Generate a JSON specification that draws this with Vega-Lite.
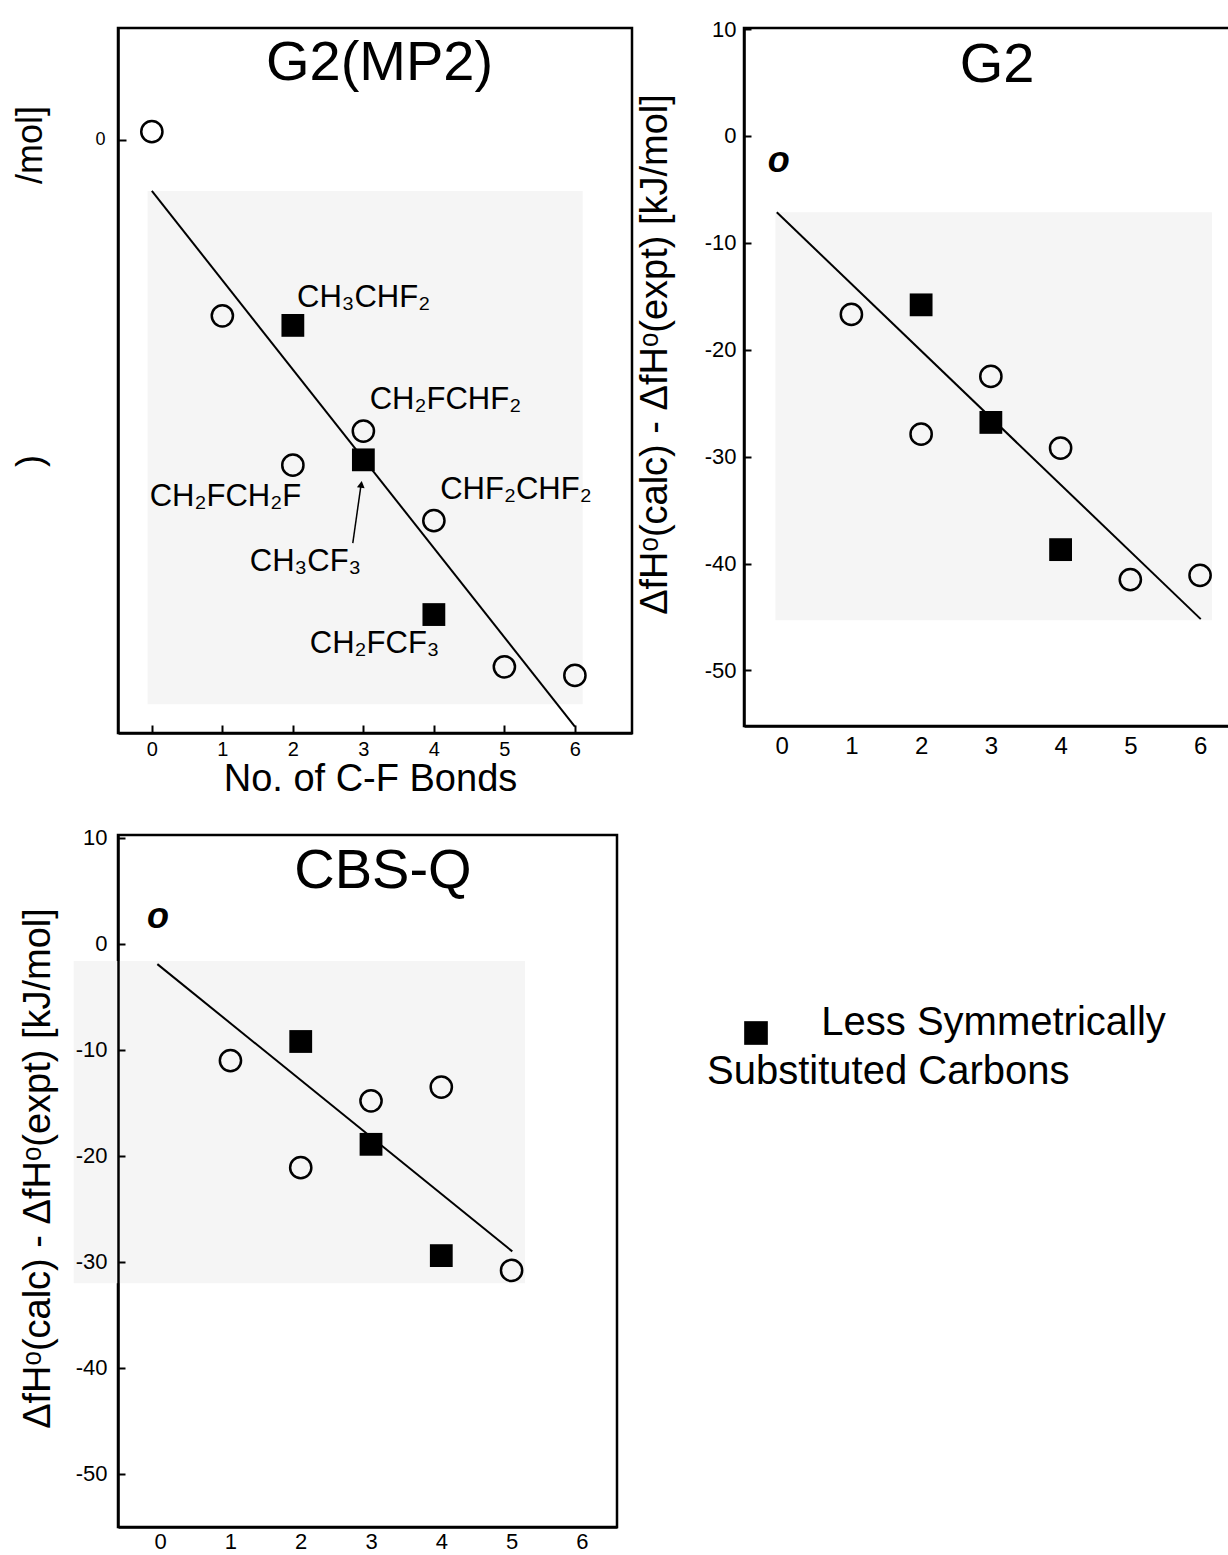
{
  "$schema": "https://vega.github.io/schema/vega-lite/v6.json",
  "background": "white",
  "padding": {"left": 11, "top": 16, "right": 0, "bottom": 0},
  "config": {
    "font": "Liberation Sans",
    "view": {"stroke": "black", "strokeWidth": 2.5},
    "axis": {"grid": false, "domain": true, "domainColor": "black", "domainWidth": 2.5, "tickColor": "black", "tickWidth": 2, "labelColor": "black", "titleColor": "black", "labelFont": "Liberation Sans", "titleFont": "Liberation Sans", "titleFontWeight": "normal", "labelFlush": false, "labelOverlap": false, "zindex": 1, "labelExpr": "'' + datum.value"},
    "text": {"font": "Liberation Sans", "color": "black"}
  },
  "datasets": {
    "pts": [
      {"panel": "G2(MP2)", "bonds": 0, "dev": 0.75, "kind": "other"},
      {"panel": "G2(MP2)", "bonds": 1, "dev": -16.5, "kind": "other"},
      {"panel": "G2(MP2)", "bonds": 2, "dev": -17.4, "kind": "less"},
      {"panel": "G2(MP2)", "bonds": 3, "dev": -27.3, "kind": "other"},
      {"panel": "G2(MP2)", "bonds": 2, "dev": -30.5, "kind": "other"},
      {"panel": "G2(MP2)", "bonds": 3, "dev": -30.0, "kind": "less"},
      {"panel": "G2(MP2)", "bonds": 4, "dev": -35.7, "kind": "other"},
      {"panel": "G2(MP2)", "bonds": 4, "dev": -44.5, "kind": "less"},
      {"panel": "G2(MP2)", "bonds": 5, "dev": -49.4, "kind": "other"},
      {"panel": "G2(MP2)", "bonds": 6, "dev": -50.2, "kind": "other"},
      {"panel": "G2", "bonds": 1, "dev": -16.7, "kind": "other"},
      {"panel": "G2", "bonds": 2, "dev": -15.8, "kind": "less"},
      {"panel": "G2", "bonds": 3, "dev": -22.5, "kind": "other"},
      {"panel": "G2", "bonds": 2, "dev": -27.9, "kind": "other"},
      {"panel": "G2", "bonds": 3, "dev": -26.8, "kind": "less"},
      {"panel": "G2", "bonds": 4, "dev": -29.2, "kind": "other"},
      {"panel": "G2", "bonds": 4, "dev": -38.7, "kind": "less"},
      {"panel": "G2", "bonds": 5, "dev": -41.5, "kind": "other"},
      {"panel": "G2", "bonds": 6, "dev": -41.1, "kind": "other"},
      {"panel": "CBS-Q", "bonds": 1, "dev": -11.0, "kind": "other"},
      {"panel": "CBS-Q", "bonds": 2, "dev": -9.2, "kind": "less"},
      {"panel": "CBS-Q", "bonds": 3, "dev": -14.8, "kind": "other"},
      {"panel": "CBS-Q", "bonds": 4, "dev": -13.5, "kind": "other"},
      {"panel": "CBS-Q", "bonds": 3, "dev": -18.9, "kind": "less"},
      {"panel": "CBS-Q", "bonds": 2, "dev": -21.1, "kind": "other"},
      {"panel": "CBS-Q", "bonds": 4, "dev": -29.4, "kind": "less"},
      {"panel": "CBS-Q", "bonds": 5, "dev": -30.8, "kind": "other"}
    ],
    "fit": [
      {"panel": "G2(MP2)", "bonds": 0.0, "dev": -4.8},
      {"panel": "G2(MP2)", "bonds": 6.0, "dev": -55.0},
      {"panel": "G2", "bonds": -0.07, "dev": -7.14},
      {"panel": "G2", "bonds": 6.01, "dev": -45.2},
      {"panel": "CBS-Q", "bonds": -0.04, "dev": -1.9},
      {"panel": "CBS-Q", "bonds": 5.01, "dev": -29.0}
    ],
    "shade": [
      {"panel": "G2(MP2)", "bonds": -0.06, "bonds2": 6.11, "dev": -4.8, "dev2": -52.9},
      {"panel": "G2", "bonds": -0.09, "bonds2": 6.17, "dev": -7.14, "dev2": -45.3},
      {"panel": "CBS-Q", "bonds": -1.23, "bonds2": 5.19, "dev": -1.6, "dev2": -32.0}
    ],
    "arrow": [
      {"panel": "G2(MP2)", "part": "shaft", "bonds": 2.85, "dev": -37.8},
      {"panel": "G2(MP2)", "part": "shaft", "bonds": 2.97, "dev": -32.2},
      {"panel": "G2(MP2)", "part": "head", "bonds": 2.97, "dev": -32.3}
    ],
    "labels": [
      {"panel": "G2(MP2)", "role": "title", "text": "G2(MP2)", "bonds": 3.23, "dev": 7.2},
      {"panel": "G2(MP2)", "role": "compound", "text": "CH₃CHF₂", "bonds": 2.06, "dev": -14.8},
      {"panel": "G2(MP2)", "role": "compound", "text": "CH₂FCHF₂", "bonds": 3.09, "dev": -24.4},
      {"panel": "G2(MP2)", "role": "compound", "text": "CH₂FCH₂F", "bonds": -0.03, "dev": -33.5},
      {"panel": "G2(MP2)", "role": "compound", "text": "CHF₂CHF₂", "bonds": 4.09, "dev": -32.8},
      {"panel": "G2(MP2)", "role": "compound", "text": "CH₃CF₃", "bonds": 1.39, "dev": -39.6},
      {"panel": "G2(MP2)", "role": "compound", "text": "CH₂FCF₃", "bonds": 2.24, "dev": -47.3},
      {"panel": "G2(MP2)", "role": "fragment", "text": "/mol]", "bonds": -1.72, "dev": -0.5},
      {"panel": "G2(MP2)", "role": "fragment", "text": ")", "bonds": -1.72, "dev": -30.1},
      {"panel": "G2", "role": "title", "text": "G2", "bonds": 3.09, "dev": 6.6},
      {"panel": "G2", "role": "o", "text": "o", "bonds": -0.04, "dev": -2.35},
      {"panel": "CBS-Q", "role": "title", "text": "CBS-Q", "bonds": 3.17, "dev": 6.9},
      {"panel": "CBS-Q", "role": "o", "text": "o", "bonds": -0.03, "dev": 2.5}
    ],
    "legend": [
      {"role": "marker", "text": "", "lx": 0.25, "ly": 3.4},
      {"role": "text", "text": "Less Symmetrically", "lx": 1.61, "ly": 3.73},
      {"role": "text", "text": "Substituted Carbons", "lx": -0.77, "ly": 2.1}
    ]
  },
  "columns": 2,
  "bounds": "flush",
  "align": "none",
  "spacing": {"row": 102, "column": 112},
  "concat": [
    {
      "width": 514,
      "height": 705,
      "encoding": {
        "x": {"field": "bonds", "type": "quantitative", "scale": {"domain": [-0.48, 6.81], "nice": false, "zero": false},
          "axis": {"values": [0, 1, 2, 3, 4, 5, 6], "title": "No. of C-F Bonds", "titleFontSize": 38, "titleX": 252, "titleY": 46, "titleBaseline": "middle", "labelFontSize": 20, "tickSize": -8, "labelPadding": 14, "zindex": 1}},
        "y": {"field": "dev", "type": "quantitative", "scale": {"domain": [-55.6, 10.47], "nice": false, "zero": false},
          "axis": {"values": [0], "title": null, "labelFontSize": 18, "tickSize": -8, "labelPadding": 21, "zindex": 1}}
      },
      "layer": [
        {"data": {"name": "shade"}, "transform": [{"filter": "datum.panel === 'G2(MP2)'"}], "mark": {"type": "rect", "color": "#f5f5f5"}, "encoding": {"x2": {"field": "bonds2"}, "y2": {"field": "dev2"}}},
        {"data": {"name": "fit"}, "transform": [{"filter": "datum.panel === 'G2(MP2)'"}], "mark": {"type": "line", "color": "black", "strokeWidth": 2}, "encoding": {}},
        {"data": {"name": "arrow"}, "transform": [{"filter": "datum.part === 'shaft'"}], "mark": {"type": "line", "color": "black", "strokeWidth": 1.5}, "encoding": {}},
        {"data": {"name": "arrow"}, "transform": [{"filter": "datum.part === 'head'"}], "mark": {"type": "point", "shape": "triangle-up", "filled": true, "color": "black", "size": 60, "angle": 8, "opacity": 1}},
        {"data": {"name": "pts"}, "transform": [{"filter": "datum.panel === 'G2(MP2)' && datum.kind === 'other'"}], "mark": {"type": "point", "shape": "circle", "filled": false, "stroke": "black", "strokeWidth": 2.5, "size": 450, "opacity": 1}},
        {"data": {"name": "pts"}, "transform": [{"filter": "datum.panel === 'G2(MP2)' && datum.kind === 'less'"}], "mark": {"type": "square", "filled": true, "color": "black", "size": 520, "opacity": 1}},
        {"data": {"name": "labels"}, "transform": [{"filter": "datum.panel === 'G2(MP2)' && datum.role === 'compound'"}], "mark": {"type": "text", "align": "left", "baseline": "middle", "fontSize": 31}, "encoding": {"text": {"field": "text"}}},
        {"data": {"name": "labels"}, "transform": [{"filter": "datum.panel === 'G2(MP2)' && datum.role === 'title'"}], "mark": {"type": "text", "align": "center", "baseline": "middle", "fontSize": 56}, "encoding": {"text": {"field": "text"}}},
        {"data": {"name": "labels"}, "transform": [{"filter": "datum.panel === 'G2(MP2)' && datum.role === 'fragment'"}], "mark": {"type": "text", "align": "center", "baseline": "middle", "fontSize": 36, "angle": 270}, "encoding": {"text": {"field": "text"}}}
      ]
    },
    {
      "width": 500,
      "height": 698,
      "encoding": {
        "x": {"field": "bonds", "type": "quantitative", "scale": {"domain": [-0.54, 6.63], "nice": false, "zero": false},
          "axis": {"values": [0, 1, 2, 3, 4, 5, 6], "title": null, "labelFontSize": 24, "ticks": false, "labelPadding": 8, "zindex": 1}},
        "y": {"field": "dev", "type": "quantitative", "scale": {"domain": [-55.2, 10.1], "nice": false, "zero": false},
          "axis": {"values": [-50, -40, -30, -20, -10, 0, 10], "labelFontSize": 22, "tickSize": -7, "labelPadding": 15, "title": "ΔfHᵒ(calc) - ΔfHᵒ(expt) [kJ/mol]", "titleFontSize": 38, "titleX": -89, "titleY": 326, "titleAlign": "center", "titleBaseline": "middle", "titleAngle": 270, "zindex": 1}}
      },
      "layer": [
        {"data": {"name": "shade"}, "transform": [{"filter": "datum.panel === 'G2'"}], "mark": {"type": "rect", "color": "#f5f5f5"}, "encoding": {"x2": {"field": "bonds2"}, "y2": {"field": "dev2"}}},
        {"data": {"name": "fit"}, "transform": [{"filter": "datum.panel === 'G2'"}], "mark": {"type": "line", "color": "black", "strokeWidth": 2}, "encoding": {}},
        {"data": {"name": "pts"}, "transform": [{"filter": "datum.panel === 'G2' && datum.kind === 'other'"}], "mark": {"type": "point", "shape": "circle", "filled": false, "stroke": "black", "strokeWidth": 2.5, "size": 450, "opacity": 1}},
        {"data": {"name": "pts"}, "transform": [{"filter": "datum.panel === 'G2' && datum.kind === 'less'"}], "mark": {"type": "square", "filled": true, "color": "black", "size": 520, "opacity": 1}},
        {"data": {"name": "labels"}, "transform": [{"filter": "datum.panel === 'G2' && datum.role === 'title'"}], "mark": {"type": "text", "align": "center", "baseline": "middle", "fontSize": 56}, "encoding": {"text": {"field": "text"}}},
        {"data": {"name": "labels"}, "transform": [{"filter": "datum.panel === 'G2' && datum.role === 'o'"}], "mark": {"type": "text", "align": "center", "baseline": "middle", "fontSize": 36, "fontStyle": "italic", "fontWeight": "bold"}, "encoding": {"text": {"field": "text"}}}
      ]
    },
    {
      "width": 499,
      "height": 692,
      "encoding": {
        "x": {"field": "bonds", "type": "quantitative", "scale": {"domain": [-0.6, 6.5], "nice": false, "zero": false},
          "axis": {"values": [0, 1, 2, 3, 4, 5, 6], "title": null, "labelFontSize": 22, "ticks": false, "labelPadding": 4, "zindex": 1}},
        "y": {"field": "dev", "type": "quantitative", "scale": {"domain": [-55.0, 10.28], "nice": false, "zero": false},
          "axis": {"values": [-50, -40, -30, -20, -10, 0, 10], "labelFontSize": 22, "tickSize": -7, "labelPadding": 18, "title": "ΔfHᵒ(calc) - ΔfHᵒ(expt) [kJ/mol]", "titleFontSize": 38, "titleX": -80, "titleY": 333, "titleAlign": "center", "titleBaseline": "middle", "titleAngle": 270, "zindex": 1}}
      },
      "layer": [
        {"data": {"name": "shade"}, "transform": [{"filter": "datum.panel === 'CBS-Q'"}], "mark": {"type": "rect", "color": "#f5f5f5"}, "encoding": {"x2": {"field": "bonds2"}, "y2": {"field": "dev2"}}},
        {"data": {"name": "fit"}, "transform": [{"filter": "datum.panel === 'CBS-Q'"}], "mark": {"type": "line", "color": "black", "strokeWidth": 2}, "encoding": {}},
        {"data": {"name": "pts"}, "transform": [{"filter": "datum.panel === 'CBS-Q' && datum.kind === 'other'"}], "mark": {"type": "point", "shape": "circle", "filled": false, "stroke": "black", "strokeWidth": 2.5, "size": 450, "opacity": 1}},
        {"data": {"name": "pts"}, "transform": [{"filter": "datum.panel === 'CBS-Q' && datum.kind === 'less'"}], "mark": {"type": "square", "filled": true, "color": "black", "size": 520, "opacity": 1}},
        {"data": {"name": "labels"}, "transform": [{"filter": "datum.panel === 'CBS-Q' && datum.role === 'title'"}], "mark": {"type": "text", "align": "center", "baseline": "middle", "fontSize": 56}, "encoding": {"text": {"field": "text"}}},
        {"data": {"name": "labels"}, "transform": [{"filter": "datum.panel === 'CBS-Q' && datum.role === 'o'"}], "mark": {"type": "text", "align": "center", "baseline": "middle", "fontSize": 36, "fontStyle": "italic", "fontWeight": "bold"}, "encoding": {"text": {"field": "text"}}}
      ]
    },
    {
      "width": 480,
      "height": 300,
      "view": {"stroke": null},
      "data": {"name": "legend"},
      "encoding": {
        "x": {"field": "lx", "type": "quantitative", "scale": {"domain": [0, 10], "nice": false, "zero": false}, "axis": null},
        "y": {"field": "ly", "type": "quantitative", "scale": {"domain": [0, 10], "nice": false, "zero": false}, "axis": null}
      },
      "layer": [
        {"transform": [{"filter": "datum.role === 'marker'"}], "mark": {"type": "square", "filled": true, "color": "black", "size": 560, "opacity": 1}},
        {"transform": [{"filter": "datum.role === 'text'"}], "mark": {"type": "text", "align": "left", "baseline": "middle", "fontSize": 40}, "encoding": {"text": {"field": "text"}}}
      ]
    }
  ]
}
